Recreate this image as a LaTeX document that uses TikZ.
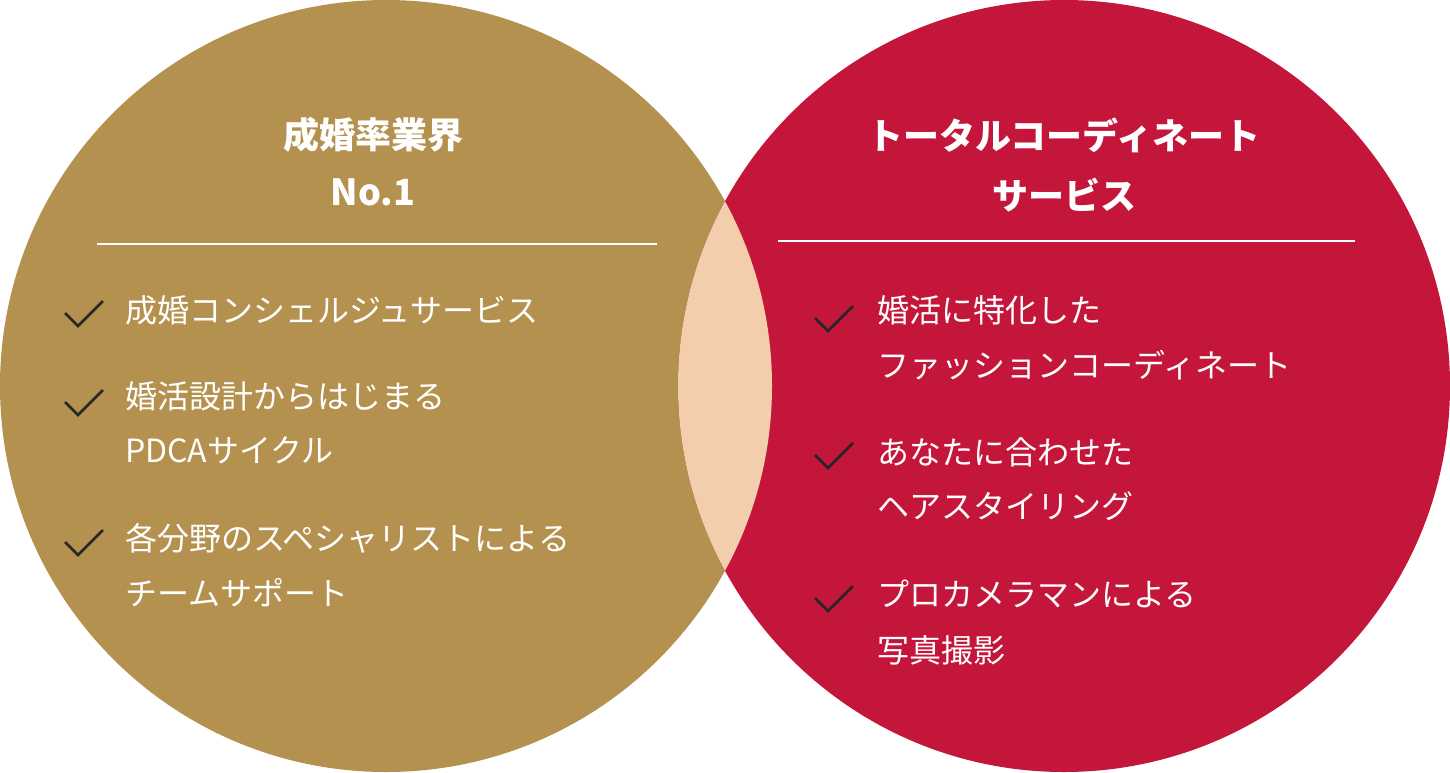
\documentclass[tikz,border=0pt]{standalone}
\usepackage{fontspec}
\setmainfont{Noto Sans CJK JP}
\definecolor{gold}{HTML}{B4914F}
\definecolor{redc}{HTML}{C4163A}
\definecolor{lens}{HTML}{F2CEAC}
\begin{document}
\begin{tikzpicture}[x=1pt,y=-1pt,
  txt/.style={anchor=west,text=white,font=\fontsize{32}{32}\selectfont,inner sep=0pt},
  ttl/.style={text=white,font=\fontsize{36}{36}\selectfont\bfseries,inner sep=0pt},
  chk/.style={draw=black!85,line width=2.6pt}]
\useasboundingbox (0,0) rectangle (1450,772);
\fill[gold] (386,386) circle (386);
\fill[redc] (1064,386) circle (386);
\begin{scope}
\clip (386,386) circle (386);
\fill[lens] (1064,386) circle (386);
\end{scope}
\node[ttl] (t1) at (373,135) {成婚率業界};
\node[ttl] (t2) at (373,192) {No.1};
\node[ttl] (t3) at (1064,135) {トータルコーディネート};
\node[ttl] (t4) at (1064,195) {サービス};
\draw[white,line width=2.5pt] (97,244) -- (657,244);
\draw[white,line width=2.5pt] (778,241) -- (1355,241);
\foreach \y in {313,402,542} \draw[chk] (65,\y) -- (78,\y+13) -- (103,\y-12);
\foreach \y in {318,455,598} \draw[chk] (815,\y) -- (828,\y+13) -- (853,\y-12);
\node[txt] (a1) at (125,310) {成婚コンシェルジュサービス};
\node[txt] (a2) at (125,396) {婚活設計からはじまる};
\node[txt] (a3) at (125,450) {PDCAサイクル};
\node[txt] (a4) at (125,538) {各分野のスペシャリストによる};
\node[txt] (a5) at (125,593) {チームサポート};
\node[txt] (b1) at (877,310) {婚活に特化した};
\node[txt] (b2) at (877,365) {ファッションコーディネート};
\node[txt] (b3) at (877,452) {あなたに合わせた};
\node[txt] (b4) at (877,506) {ヘアスタイリング};
\node[txt] (b5) at (877,594) {プロカメラマンによる};
\node[txt] (b6) at (877,650) {写真撮影};
\end{tikzpicture}
\end{document}
